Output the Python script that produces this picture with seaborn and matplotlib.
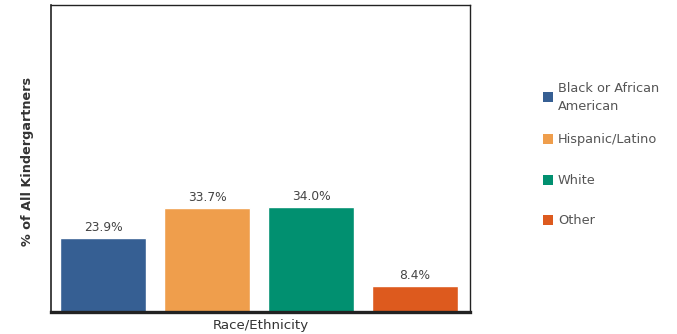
import matplotlib
matplotlib.use("Agg")
import matplotlib.pyplot as plt
import seaborn as sns
import pandas as pd
from matplotlib.patches import Rectangle

categories = ["Black or African American", "Hispanic/Latino", "White", "Other"]
legend_labels = ["Black or African\nAmerican", "Hispanic/Latino", "White", "Other"]
values = [23.9, 33.7, 34.0, 8.4]
colors = ["#365F93", "#EF9E4C", "#019070", "#DD5A1E"]

df = pd.DataFrame({"group": categories, "pct": values})

sns.set_theme(style="white")
plt.rcParams["font.family"] = ["DejaVu Sans"]

W, H = 677, 334
fig = plt.figure(figsize=(W / 100, H / 100), dpi=100)
ax = fig.add_axes([51 / W, (H - 312) / H, (470 - 51) / W, (312 - 5) / H])

sns.barplot(data=df, x="group", y="pct", hue="group", palette=colors,
            order=categories, hue_order=categories, dodge=False,
            width=0.83, saturation=1, legend=False, ax=ax)

for i, v in enumerate(values):
    ax.text(i, v + 1.3, f"{v:.1f}%", ha="center", va="bottom",
            fontsize=8.8, color="#444444")

ax.set_ylim(0, 99.5)
ax.set_xlim(-0.5, 3.53)
ax.set_xticks([])
ax.set_yticks([])
ax.set_xlabel("Race/Ethnicity", fontsize=9.6, color="#333333", labelpad=5)
ax.set_ylabel("% of All Kindergartners", fontsize=9.2, fontweight="bold",
              color="#333333")
ax.yaxis.set_label_coords(-0.041, 0.49)

for side, lw in [("left", 1.2), ("top", 1.0), ("right", 1.0), ("bottom", 2.4)]:
    ax.spines[side].set_visible(True)
    ax.spines[side].set_color("#222222")
    ax.spines[side].set_linewidth(lw)

# Legend entries laid out in figure pixels to the right of the plot
legend_y = [97.5, 139, 180, 220]
sq = 10
for lab, col, yc in zip(legend_labels, colors, legend_y):
    fig.add_artist(Rectangle((543 / W, (H - yc - sq / 2) / H), sq / W, sq / H,
                             transform=fig.transFigure, facecolor=col,
                             edgecolor="none"))
    fig.text(558 / W, (H - yc) / H, lab, ha="left", va="center",
             fontsize=9.3, color="#555555", linespacing=1.55)

fig.savefig("out.png", dpi=100)
